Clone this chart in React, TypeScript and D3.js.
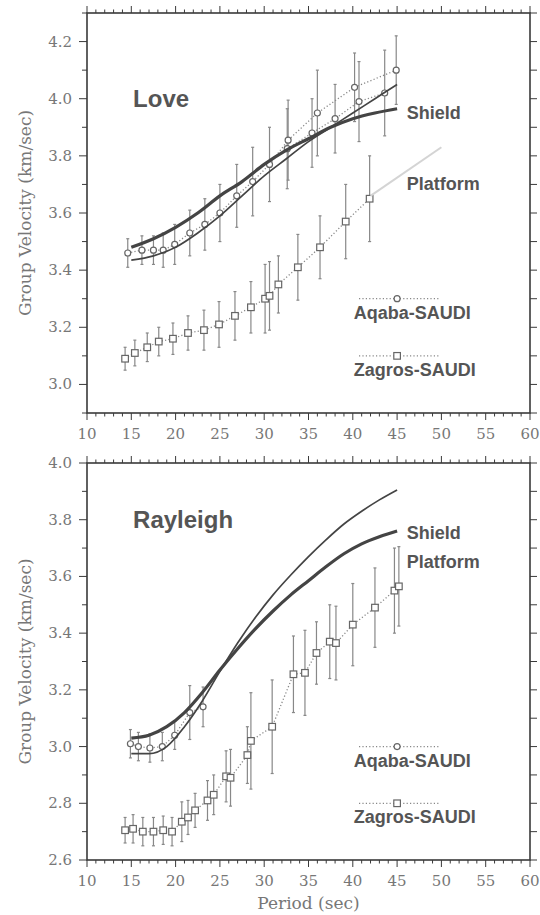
import React from 'react';
import * as d3 from 'd3';

const W = 540;
const H = 915;

// Love waves
const loveShieldP = [15, 17.5, 20, 22.5, 25, 27.5, 30, 32.5, 35, 37.5, 40, 42.5, 45];
const loveShieldV = [3.48, 3.51, 3.55, 3.6, 3.66, 3.71, 3.77, 3.82, 3.86, 3.9, 3.93, 3.95, 3.965];
const lovePlatP = [15, 17.5, 20, 22.5, 25, 27.5, 30, 32.5, 35, 37.5, 40, 42.5, 45];
const lovePlatV = [3.435, 3.45, 3.48, 3.53, 3.59, 3.66, 3.73, 3.79, 3.85, 3.9, 3.95, 4.0, 4.05];

const loveAqabaP = [14.6, 16.2, 17.5, 18.6, 19.9, 21.6, 23.3, 25.0, 26.9, 28.7, 30.6, 32.7, 36.0, 40.2, 44.9];
const loveAqabaV = [3.46, 3.47, 3.47, 3.47, 3.49, 3.53, 3.56, 3.6, 3.66, 3.71, 3.77, 3.855, 3.95, 4.04, 4.1];
const loveAqabaE = [0.05, 0.05, 0.05, 0.06, 0.07, 0.08, 0.09, 0.1, 0.11, 0.12, 0.13, 0.14, 0.15, 0.12, 0.12];
const loveAqaba2P = [32.6, 35.4, 38.0, 40.7, 43.6];
const loveAqaba2V = [3.825, 3.88, 3.93, 3.99, 4.02];
const loveAqaba2E = [0.14, 0.12, 0.12, 0.14, 0.15];

const loveZagrosP = [14.3, 15.4, 16.8, 18.1, 19.7, 21.4, 23.2, 24.9, 26.7, 28.5, 30.1, 30.6, 31.6, 33.8, 36.3, 39.2, 41.9];
const loveZagrosV = [3.09, 3.11, 3.13, 3.15, 3.16, 3.18, 3.19, 3.21, 3.24, 3.27, 3.3, 3.31, 3.35, 3.41, 3.48, 3.57, 3.65];
const loveZagrosE = [0.04, 0.045, 0.05, 0.05, 0.055, 0.06, 0.07, 0.08, 0.085, 0.09, 0.12, 0.12, 0.1, 0.115, 0.11, 0.13, 0.15];
const loveFaintP = [42, 50];
const loveFaintV = [3.66, 3.83];

// Rayleigh waves
const rayShieldP = [15, 17, 19, 21, 23, 25, 27, 29, 31, 33, 35, 37, 39, 41, 43, 45];
const rayShieldV = [3.03, 3.04, 3.07, 3.12, 3.19, 3.27, 3.345, 3.415, 3.478, 3.535, 3.585, 3.635, 3.68, 3.715, 3.74, 3.76];
const rayPlatP = [15, 17, 19, 21, 23, 25, 27, 29, 31, 33, 35, 37, 39, 41, 43, 45];
const rayPlatV = [2.975, 2.975, 3.0, 3.07, 3.16, 3.265, 3.365, 3.455, 3.535, 3.605, 3.67, 3.73, 3.785, 3.83, 3.87, 3.905];

const rayAqabaP = [14.9, 15.8, 17.1, 18.5, 19.9, 21.6, 23.1];
const rayAqabaV = [3.01, 3.0, 2.995, 3.0, 3.04, 3.12, 3.14];
const rayAqabaE = [0.05, 0.05, 0.05, 0.05, 0.05, 0.095, 0.07];

const rayZagrosP = [14.3, 15.2, 16.3, 17.5, 18.6, 19.6, 20.7, 21.4, 22.2, 23.6, 24.3, 25.7, 26.2, 28.1, 28.5, 30.9, 33.3, 34.6, 35.9, 37.4, 38.1, 40.0, 42.5, 44.7, 45.2];
const rayZagrosV = [2.705, 2.71, 2.7, 2.7, 2.705, 2.7, 2.735, 2.75, 2.775, 2.81, 2.83, 2.895, 2.89, 2.97, 3.02, 3.07, 3.255, 3.26, 3.33, 3.37, 3.365, 3.43, 3.49, 3.55, 3.565];
const rayZagrosE = [0.045, 0.05, 0.05, 0.05, 0.05, 0.05, 0.07, 0.06, 0.06, 0.07, 0.07, 0.09, 0.1, 0.1, 0.17, 0.165, 0.135, 0.15, 0.11, 0.13, 0.13, 0.145, 0.14, 0.15, 0.14];

const xTicks = [10, 15, 20, 25, 30, 35, 40, 45, 50, 55, 60];
const loveYTicks = [3.0, 3.2, 3.4, 3.6, 3.8, 4.0, 4.2];
const rayYTicks = [2.6, 2.8, 3.0, 3.2, 3.4, 3.6, 3.8, 4.0];

const zip = (p: number[], v: number[], e?: number[]) =>
  p.map((x, i) => ({ p: x, v: v[i], e: e ? e[i] : 0 }));

const xScale = d3.scaleLinear().domain([10, 60]).range([87, 530]);

const ink = '#3a3a3a';
const grey = '#777';
const serif = '"DejaVu Serif", serif';
const sans = '"Liberation Sans", Arial, sans-serif';

type Pt = { p: number; v: number; e: number };

const Panel = (props: any) => {
  const { yDomain, yRange, yTicks, curves, series, labels, legendY } = props;
  const y = d3.scaleLinear().domain(yDomain).range(yRange);
  const [x0, x1] = xScale.range();
  const yb = yRange[0];
  const yt = yRange[1];
  const smooth = d3.line<Pt>().x(d => xScale(d.p)).y(d => y(d.v)).curve(d3.curveMonotoneX);
  const straight = d3.line<Pt>().x(d => xScale(d.p)).y(d => y(d.v));
  const minorX = d3.range(10, 61, 1);
  const minorY = d3.range(Math.round(yDomain[0] * 10), Math.round(yDomain[1] * 10) + 1).map(d => d / 10);

  const marker = (shape: string, cx: number, cy: number, k: any) =>
    shape === 'circle'
      ? <circle key={k} cx={cx} cy={cy} r={3} fill="white" stroke="#666" strokeWidth={1.2} />
      : <rect key={k} x={cx - 3.3} y={cy - 3.3} width={6.6} height={6.6} fill="white" stroke="#666" strokeWidth={1.2} />;

  return (
    <g>
      {/* error bars */}
      {series.map((s: any, si: number) => s.data.map((d: Pt, i: number) => (
        <g key={`e${si}-${i}`} stroke="#888" strokeWidth={1.2}>
          <line x1={xScale(d.p)} x2={xScale(d.p)} y1={y(d.v - d.e)} y2={y(d.v + d.e)} />
          <line x1={xScale(d.p) - 1.5} x2={xScale(d.p) + 1.5} y1={y(d.v - d.e)} y2={y(d.v - d.e)} />
          <line x1={xScale(d.p) - 1.5} x2={xScale(d.p) + 1.5} y1={y(d.v + d.e)} y2={y(d.v + d.e)} />
        </g>
      )))}
      {/* dotted connectors */}
      {series.map((s: any, si: number) => (
        <path key={`l${si}`} d={straight(s.data) || ''} fill="none" stroke="#888" strokeWidth={1.3} strokeDasharray="1.2,2.2" />
      ))}
      {series.map((s: any, si: number) => s.data.map((d: Pt, i: number) => marker(s.shape, xScale(d.p), y(d.v), `m${si}-${i}`)))}
      {/* model curves */}
      {curves.map((c: any, ci: number) => (
        <path key={`c${ci}`} d={(c.smooth ? smooth : straight)(c.data) || ''} fill="none" stroke={c.color || '#444'} strokeWidth={c.width} />
      ))}

      {/* frame */}
      <rect x={x0} y={yt} width={x1 - x0} height={yb - yt} fill="none" stroke={ink} strokeWidth={1.6} />
      {/* x ticks */}
      {minorX.map(t => {
        const major = t % 5 === 0;
        const len = major ? 7 : 3.5;
        return (
          <g key={`xt${t}`} stroke={ink} strokeWidth={1}>
            <line x1={xScale(t)} x2={xScale(t)} y1={yb} y2={yb + len} />
            <line x1={xScale(t)} x2={xScale(t)} y1={yt} y2={yt - len} />
          </g>
        );
      })}
      {xTicks.map(t => (
        <text key={`xl${t}`} x={xScale(t)} y={yb + 26} textAnchor="middle" fontFamily={serif} fontSize={15} fill={grey}>{t}</text>
      ))}
      {/* y ticks */}
      {minorY.map((t, i) => {
        const major = yTicks.some((m: number) => Math.abs(m - t) < 1e-6);
        return (
          <g key={`yt${i}`} stroke={ink} strokeWidth={1}>
            <line x1={x0} x2={x0 - (major ? 8 : 5)} y1={y(t)} y2={y(t)} />
            <line x1={x1} x2={x1 + 7} y1={y(t)} y2={y(t)} />
          </g>
        );
      })}
      {yTicks.map((t: number) => (
        <text key={`yl${t}`} x={x0 - 15} y={y(t) + 5} textAnchor="end" fontFamily={serif} fontSize={15} fill={grey}>{t.toFixed(1)}</text>
      ))}
      <text transform={`translate(31,${(yt + yb) / 2}) rotate(-90)`} textAnchor="middle" fontFamily={serif} fontSize={17} fill={grey}>Group Velocity (km/sec)</text>

      {/* labels */}
      {labels.map((l: any, i: number) => (
        <text key={`lb${i}`} x={xScale(l.p)} y={y(l.v)} fontFamily={sans} fontWeight="bold" fontSize={l.size} fill="#555">{l.text}</text>
      ))}
      {/* legend */}
      {series.filter((s: any) => s.legend).map((s: any, i: number) => {
        const ly = y(legendY[i]);
        return (
          <g key={`lg${i}`}>
            <line x1={xScale(40.7)} x2={xScale(49.8)} y1={ly} y2={ly} stroke="#888" strokeWidth={1.2} strokeDasharray="1.2,2.2" />
            {marker(s.shape, xScale(45), ly, 'lm' + i)}
            <text x={xScale(40.1)} y={ly + 20} fontFamily={sans} fontWeight="bold" fontSize={18} fill="#555">{s.legend}</text>
          </g>
        );
      })}
    </g>
  );
};

export default function App() {
  const loveCurves = [
    { data: zip(loveShieldP, loveShieldV), width: 3.2, smooth: true },
    { data: zip(lovePlatP, lovePlatV), width: 1.7, smooth: true },
    { data: zip(loveFaintP, loveFaintV), width: 2, color: '#d4d4d4' },
  ];
  const loveSeries = [
    { data: zip(loveAqabaP, loveAqabaV, loveAqabaE), shape: 'circle', legend: 'Aqaba-SAUDI' },
    { data: zip(loveZagrosP, loveZagrosV, loveZagrosE), shape: 'square', legend: 'Zagros-SAUDI' },
    { data: zip(loveAqaba2P, loveAqaba2V, loveAqaba2E), shape: 'circle' },
  ];
  const rayCurves = [
    { data: zip(rayShieldP, rayShieldV), width: 3.2, smooth: true },
    { data: zip(rayPlatP, rayPlatV), width: 1.7, smooth: true },
  ];
  const raySeries = [
    { data: zip(rayAqabaP, rayAqabaV, rayAqabaE), shape: 'circle', legend: 'Aqaba-SAUDI' },
    { data: zip(rayZagrosP, rayZagrosV, rayZagrosE), shape: 'square', legend: 'Zagros-SAUDI' },
  ];
  return (
    <svg width={W} height={H} style={{ position: 'absolute', left: 0, top: 0, background: 'white' }}>
      <Panel
        yDomain={[2.9, 4.3]}
        yRange={[413, 13]}
        yTicks={loveYTicks}
        curves={loveCurves}
        series={loveSeries}
        legendY={[3.3, 3.1]}
        labels={[
          { text: 'Love', p: 15.2, v: 3.97, size: 24 },
          { text: 'Shield', p: 46.1, v: 3.93, size: 18 },
          { text: 'Platform', p: 46.1, v: 3.68, size: 18 },
        ]}
      />
      <Panel
        yDomain={[2.6, 4.0]}
        yRange={[860, 463]}
        yTicks={rayYTicks}
        curves={rayCurves}
        series={raySeries}
        legendY={[3.0, 2.8]}
        labels={[
          { text: 'Rayleigh', p: 15.2, v: 3.771, size: 24 },
          { text: 'Shield', p: 46.1, v: 3.732, size: 18 },
          { text: 'Platform', p: 46.1, v: 3.63, size: 18 },
        ]}
      />
      <text x={xScale(35)} y={909} textAnchor="middle" fontFamily={serif} fontSize={17} fill={grey}>Period (sec)</text>
    </svg>
  );
}
